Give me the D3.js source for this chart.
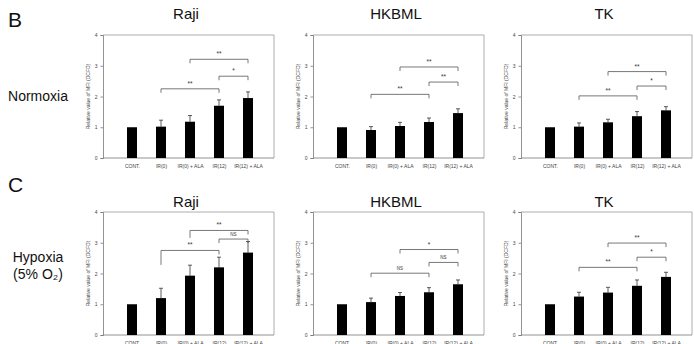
<!DOCTYPE html>
<html>
<head>
<meta charset="utf-8">
<script src="https://cdn.jsdelivr.net/npm/d3@7/dist/d3.min.js"></script>
<style>
  html, body { margin: 0; padding: 0; background: #fff; }
  svg { display: block; font-family: "Liberation Sans", Arial, sans-serif; }
</style>
</head>
<body>
<svg id="chart" width="694" height="344"></svg>
<script>
// groups on the x axis
const categories = ["CONT.", "IR(0)", "IR(0) + ALA", "IR(12)", "IR(12) + ALA"];
const cellLines = ["Raji", "HKBML", "TK"];
const yTicks = [0, 1, 2, 3, 4];

// normoxia: mean and upper error
const rajiNormoxia = [1.0, 1.02, 1.18, 1.70, 1.95];
const rajiNormoxiaErr = [0, 0.21, 0.20, 0.19, 0.20];
const hkbmlNormoxia = [1.0, 0.91, 1.04, 1.17, 1.46];
const hkbmlNormoxiaErr = [0, 0.11, 0.12, 0.13, 0.14];
const tkNormoxia = [1.0, 1.02, 1.16, 1.36, 1.55];
const tkNormoxiaErr = [0, 0.12, 0.10, 0.15, 0.12];

// hypoxia (5% O2)
const rajiHypoxia = [1.0, 1.20, 1.93, 2.20, 2.68];
const rajiHypoxiaErr = [0, 0.32, 0.34, 0.33, 0.36];
const hkbmlHypoxia = [1.0, 1.07, 1.27, 1.39, 1.65];
const hkbmlHypoxiaErr = [0, 0.13, 0.11, 0.15, 0.14];
const tkHypoxia = [1.0, 1.25, 1.38, 1.60, 1.89];
const tkHypoxiaErr = [0, 0.14, 0.17, 0.19, 0.15];

// significance brackets: [from, to, level, label, left leg end (optional)]
const rajiNormoxiaSig = [[1, 3, 2.25, "**"], [3, 4, 2.66, "*"], [2, 4, 3.21, "**"]];
const hkbmlNormoxiaSig = [[1, 3, 2.07, "**"], [3, 4, 2.47, "**"], [2, 4, 2.96, "**"]];
const tkNormoxiaSig = [[1, 3, 2.02, "**"], [3, 4, 2.34, "*"], [2, 4, 2.81, "**"]];
const rajiHypoxiaSig = [[1, 3, 2.75, "**", 2.28], [3, 4, 3.12, "NS"], [2, 4, 3.40, "**", 3.16]];
const hkbmlHypoxiaSig = [[1, 3, 2.01, "NS"], [3, 4, 2.36, "NS"], [2, 4, 2.78, "*"]];
const tkHypoxiaSig = [[1, 3, 2.20, "**"], [3, 4, 2.53, "*"], [2, 4, 2.99, "**"]];

const svg = d3.select("#chart");

const rows = [
  { letter: "B", lines: ["Normoxia"], top: 35, titleY: 19, letterY: 27, labelY: [101],
    panels: [[rajiNormoxia, rajiNormoxiaErr, rajiNormoxiaSig], [hkbmlNormoxia, hkbmlNormoxiaErr, hkbmlNormoxiaSig], [tkNormoxia, tkNormoxiaErr, tkNormoxiaSig]] },
  { letter: "C", lines: ["Hypoxia", "(5% O\u2082)"], top: 212, titleY: 207, letterY: 192, labelY: [262, 279],
    panels: [[rajiHypoxia, rajiHypoxiaErr, rajiHypoxiaSig], [hkbmlHypoxia, hkbmlHypoxiaErr, hkbmlHypoxiaSig], [tkHypoxia, tkHypoxiaErr, tkHypoxiaSig]] }
];

const plotLefts = [103, 313, 521];
const plotW = 171;
const plotH = 123;

rows.forEach((row) => {
  svg.append("text")
    .attr("x", 8).attr("y", row.letterY)
    .attr("font-size", 21).attr("fill", "#111")
    .text(row.letter);

  row.lines.forEach((line, i) => {
    svg.append("text")
      .attr("x", 38).attr("y", row.labelY[i])
      .attr("text-anchor", "middle")
      .attr("font-size", 14).attr("fill", "#111")
      .text(line);
  });

  row.panels.forEach(([means, errs, sig], p) => {
    const g = svg.append("g").attr("transform", `translate(${plotLefts[p]},${row.top})`);

    const x = d3.scalePoint().domain(categories).range([29, 145]);
    const y = d3.scaleLinear().domain([0, 4]).range([plotH, 0]);
    const barW = 10;

    svg.append("text")
      .attr("x", plotLefts[p] + 83).attr("y", row.titleY)
      .attr("text-anchor", "middle")
      .attr("font-size", 15).attr("fill", "#111")
      .text(cellLines[p]);

    // frame (top + right)
    g.append("path")
      .attr("d", `M0,0H${plotW}V${plotH}`)
      .attr("fill", "none").attr("stroke", "#999").attr("stroke-width", 0.8);

    const yAxis = g.append("g")
      .call(d3.axisLeft(y).tickValues(yTicks).tickFormat(d3.format("d")).tickSize(2.5).tickPadding(3))
      .call((a) => a.select(".domain").attr("stroke", "#777").attr("stroke-width", 0.8));
    yAxis.selectAll("line").attr("stroke", "#777").attr("stroke-width", 0.8);
    yAxis.selectAll("text").attr("font-size", 5).attr("fill", "#444").attr("font-family", "Liberation Sans, Arial, sans-serif");

    const xAxis = g.append("g")
      .attr("transform", `translate(0,${plotH})`)
      .call(d3.axisBottom(x).tickSize(0).tickPadding(6))
      .call((a) => a.select(".domain").attr("d", `M0,0H${plotW}`).attr("stroke", "#777").attr("stroke-width", 0.8));
    xAxis.selectAll("text").attr("font-size", 5).attr("fill", "#444").attr("font-family", "Liberation Sans, Arial, sans-serif");

    g.append("text")
      .attr("transform", `translate(-13,${plotH / 2}) rotate(-90)`)
      .attr("text-anchor", "middle")
      .attr("font-size", 5).attr("fill", "#444")
      .text("Relative value of MFI (DCFD)");

    const data = categories.map((c, i) => ({ c, v: means[i], e: errs[i] }));

    // error bars (upper only)
    const eb = g.selectAll(".eb").data(data.filter((d) => d.e > 0)).join("g").attr("class", "eb");
    eb.append("line")
      .attr("x1", (d) => x(d.c)).attr("x2", (d) => x(d.c))
      .attr("y1", (d) => y(d.v)).attr("y2", (d) => y(d.v + d.e))
      .attr("stroke", "#333").attr("stroke-width", 0.8);
    eb.append("line")
      .attr("x1", (d) => x(d.c) - 2).attr("x2", (d) => x(d.c) + 2)
      .attr("y1", (d) => y(d.v + d.e)).attr("y2", (d) => y(d.v + d.e))
      .attr("stroke", "#333").attr("stroke-width", 0.8);

    g.selectAll(".bar").data(data).join("rect")
      .attr("class", "bar")
      .attr("x", (d) => x(d.c) - barW / 2)
      .attr("width", barW)
      .attr("y", (d) => y(d.v))
      .attr("height", (d) => y(0) - y(d.v))
      .attr("fill", "#000");

    // significance brackets
    sig.forEach(([a, b, level, label, leftEnd]) => {
      const x1 = x(categories[a]);
      const x2 = x(categories[b]);
      const yl = y(level);
      const yLeft = leftEnd !== undefined ? y(leftEnd) : yl + 4;
      g.append("path")
        .attr("d", `M${x1},${yLeft}V${yl}H${x2}V${yl + 4}`)
        .attr("fill", "none").attr("stroke", "#555").attr("stroke-width", 0.8);
      g.append("text")
        .attr("x", (x1 + x2) / 2).attr("y", yl - 3)
        .attr("text-anchor", "middle")
        .attr("font-size", label === "NS" ? 4.5 : 6.5).attr("fill", "#333")
        .text(label);
    });
  });
});
</script>
</body>
</html>
